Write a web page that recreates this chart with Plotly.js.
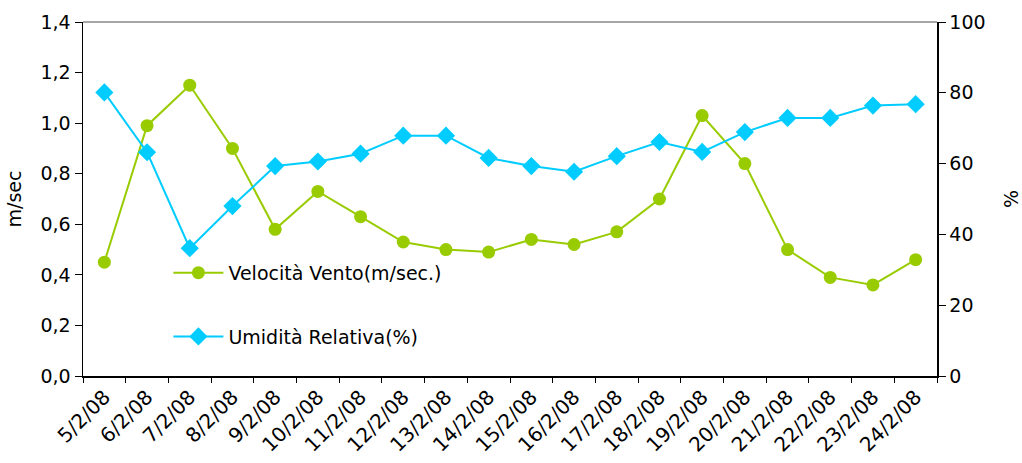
<!DOCTYPE html>
<html>
<head>
<meta charset="utf-8">
<script src="https://cdn.plot.ly/plotly-3.0.1.min.js"></script>
<style>html,body{margin:0;padding:0;background:#fff;}#chart{width:1022px;height:463px;}</style>
</head>
<body>
<div id="chart"></div>
<script>
const dates = ["5/2/08","6/2/08","7/2/08","8/2/08","9/2/08","10/2/08","11/2/08","12/2/08","13/2/08","14/2/08","15/2/08","16/2/08","17/2/08","18/2/08","19/2/08","20/2/08","21/2/08","22/2/08","23/2/08","24/2/08"];
const windSpeed = [0.45,0.99,1.15,0.90,0.58,0.73,0.63,0.53,0.50,0.49,0.54,0.52,0.57,0.70,1.03,0.84,0.50,0.39,0.36,0.46];
const humidity = [80.1,63.2,36.1,48.0,59.3,60.6,62.8,67.9,67.9,61.6,59.3,57.7,62.1,66.1,63.3,68.9,72.9,72.9,76.4,76.8];
const leftTicks = [0,0.2,0.4,0.6,0.8,1.0,1.2,1.4];
const rightTicks = [0,20,40,60,80,100];

const font = {family: "DejaVu Sans, sans-serif", size: 19, color: "#000"};
const xfont = {family: "DejaVu Sans, sans-serif", size: 20, color: "#000"};

const traces = [
  {x: dates, y: windSpeed, name: "Velocità Vento(m/sec.)", type: "scatter", mode: "lines+markers",
   line: {color: "#99CC00", width: 2}, marker: {symbol: "circle", size: 13, color: "#99CC00"},
   yaxis: "y", legendgroup: "a"},
  {x: dates, y: humidity, name: "Umidità Relativa(%)", type: "scatter", mode: "lines+markers",
   line: {color: "#00CCFF", width: 2}, marker: {symbol: "diamond", size: 14, color: "#00CCFF"},
   yaxis: "y2", legendgroup: "b"}
];

const layout = {
  width: 1022, height: 463,
  margin: {l: 83, r: 85, t: 22, b: 87},
  paper_bgcolor: "#fff", plot_bgcolor: "#fff",
  font: font,
  separators: ",.",
  showlegend: true,
  legend: {x: 0.1, y: 0.345, xanchor: "left", yanchor: "top", bgcolor: "rgba(0,0,0,0)",
           font: font, tracegroupgap: 36, itemwidth: 50},
  xaxis: {type: "category", categoryorder: "array", categoryarray: dates,
          tickangle: -45, tickson: "boundaries", ticks: "outside", ticklen: 5, tickcolor: "#000",
          showline: true, linecolor: "#000", linewidth: 1.5, showgrid: false, zeroline: false,
          tickfont: xfont, range: [-0.5, 19.5]},
  yaxis: {range: [0, 1.4], tickvals: leftTicks, tickformat: ".1f", ticks: "outside", ticklen: 7,
          tickcolor: "#000", showline: true, linecolor: "#000", linewidth: 1.5, showgrid: false,
          zeroline: false, tickfont: font, title: {text: "m/sec", font: font, standoff: 14}},
  yaxis2: {range: [0, 100], tickvals: rightTicks, overlaying: "y", side: "right", ticks: "outside",
           ticklen: 7, tickcolor: "#000", showline: true, linecolor: "#000", linewidth: 1.5,
           showgrid: false, zeroline: false, tickfont: font,
           title: {text: "%", font: font, standoff: 22}},
  shapes: [{type: "line", xref: "paper", yref: "paper", x0: 0, x1: 1, y0: 1, y1: 1,
            line: {color: "#888", width: 1.5}}]
};

Plotly.newPlot("chart", traces, layout, {displayModeBar: false, staticPlot: true});
</script>
</body>
</html>
